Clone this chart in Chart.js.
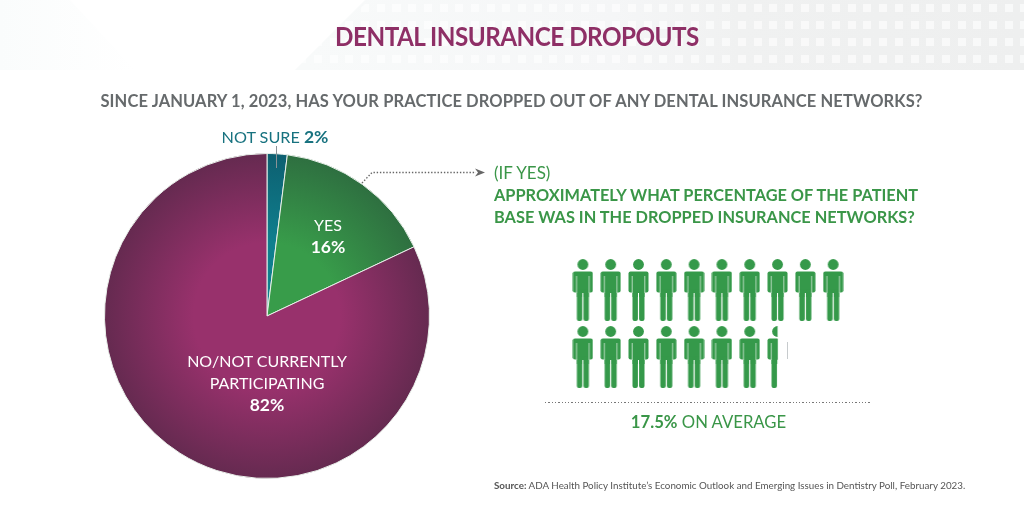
<!DOCTYPE html>
<html>
<head>
<meta charset="utf-8">
<script src="https://cdn.jsdelivr.net/npm/chart.js@4/dist/chart.umd.min.js"></script>
<style>
html, body { margin: 0; padding: 0; background: #fff; }
#page { position: relative; width: 1024px; height: 512px; overflow: hidden; font-family: Lato, sans-serif; }
#bandLeft { position: absolute; left: 0; top: 0; width: 135px; height: 70px;
  clip-path: polygon(0 0, 70px 0, 135px 70px, 0 70px);
  background: linear-gradient(90deg, #fafcfc 0, #ffffff 100%); }
#band { position: absolute; left: 0; top: 0; width: 1024px; height: 70px;
  clip-path: polygon(295px 70px, 365px 0, 1024px 0, 1024px 70px);
  background: linear-gradient(90deg, #f8fafa 30%, #f5f6f7 60%, #f0f1f1 72%, #eeefef 100%); }
#dashes { position: absolute; left: 0; top: 4px; width: 1024px; height: 62px; opacity: .6;
  clip-path: polygon(295px 62px, 365px 0, 1024px 0, 1024px 62px);
  background: repeating-linear-gradient(90deg, #fff 0 8px, transparent 8px 15.7px);
  -webkit-mask-image: repeating-linear-gradient(180deg, #000 0 8.5px, transparent 8.5px 17px); }
canvas { position: absolute; }
.t { position: absolute; white-space: nowrap; }
.c { text-align: center; transform: translateX(-50%); }
#title { left: 517px; top: 20px; font-size: 26px; font-weight: 700; color: #8e2f66; letter-spacing: -.55px; transform: translateX(-50%) scaleX(.933); }
#question { left: 511.5px; top: 91px; font-size: 16.5px; font-weight: 700; color: #666a6c; letter-spacing: .1px; }
#lab0 { left: 275px; top: 126px; font-size: 16.2px; color: #17727f; }
#lab0 b { font-size: 17.5px; }
#lab1 { left: 328px; top: 214px; font-size: 16px; line-height: 22px; color: #fff; }
#lab2 { left: 267px; top: 350px; font-size: 16px; line-height: 22px; color: #fff; }
#lab1 b, #lab2 b { font-size: 17.5px; }
#ifyes { left: 494px; top: 162px; font-size: 17px; color: #3a9648; }
#sub { left: 494px; top: 184px; font-size: 16.35px; line-height: 22px; font-weight: 700; color: #3a9648; }
#avg { left: 708.5px; top: 412px; font-size: 16.7px; color: #3a9648; }
#source { left: 494px; top: 479px; font-size: 9.8px; color: #555; }
#sep { position: absolute; left: 545px; top: 402px; width: 326px; height: 1.4px;
  background: repeating-linear-gradient(90deg, #777 0 1.3px, transparent 1.3px 3.3px); }
</style>
</head>
<body>
<div id="page">
  <div id="bandLeft"></div>
  <div id="band"></div>
  <div id="dashes"></div>
  <canvas id="pieChart" width="1024" height="512" style="left:0;top:0"></canvas>
  <canvas id="peopleChart" width="306" height="201" style="left:555px;top:223px"></canvas>
  <div id="sep"></div>
  <div class="t" id="title">DENTAL INSURANCE DROPOUTS</div>
  <div class="t c" id="question">SINCE JANUARY 1, 2023, HAS YOUR PRACTICE DROPPED OUT OF ANY DENTAL INSURANCE NETWORKS?</div>
  <div class="t c" id="lab0"></div>
  <div class="t c" id="lab1"></div>
  <div class="t c" id="lab2"></div>
  <div class="t" id="ifyes">(IF YES)</div>
  <div class="t" id="sub">APPROXIMATELY WHAT PERCENTAGE OF THE PATIENT<br>BASE WAS IN THE DROPPED INSURANCE NETWORKS?</div>
  <div class="t c" id="avg"></div>
  <div class="t" id="source"><b>Source:</b> ADA Health Policy Institute’s Economic Outlook and Emerging Issues in Dentistry Poll, February 2023.</div>
</div>
<script>
var answers = ['NOT SURE', 'YES', 'NO/NOT CURRENTLY<br>PARTICIPATING'];
var answerShares = [2, 16, 82];
var innerColors = ['#0f7f8e', '#389c4a', '#98316c'];
var outerColors = ['#0d5f70', '#2e6f40', '#652a50'];
var averageShare = 17.5;
var iconsPerRow = 10;

// labels
document.getElementById('lab0').innerHTML = answers[0] + ' <b>' + answerShares[0] + '%</b>';
document.getElementById('lab1').innerHTML = answers[1] + '<br><b>' + answerShares[1] + '%</b>';
document.getElementById('lab2').innerHTML = answers[2] + '<br><b>' + answerShares[2] + '%</b>';
document.getElementById('avg').innerHTML = '<b>' + averageShare + '%</b> ON AVERAGE';

// thin leader lines next to the pie
var calloutPlugin = {
    id: 'callout',
    afterDraw: function (chart) {
        var c = chart.ctx;
        c.save();
        c.strokeStyle = '#8a9296';
        c.lineWidth = 1;
        c.beginPath();
        c.moveTo(276.5, 146);
        c.lineTo(276.5, 168);
        c.stroke();
        c.strokeStyle = '#666';
        c.lineWidth = 1.4;
        c.setLineDash([1.4, 1.8]);
        c.beginPath();
        c.moveTo(362, 183);
        c.lineTo(372, 172.5);
        c.lineTo(476, 172.5);
        c.stroke();
        c.setLineDash([]);
        c.fillStyle = '#666';
        c.beginPath();
        c.moveTo(485, 172.5);
        c.lineTo(475, 168.5);
        c.lineTo(478, 172.5);
        c.lineTo(475, 176.5);
        c.closePath();
        c.fill();
        c.restore();
    }
};

function sliceGradient(context) {
    var area = context.chart.chartArea;
    if (!area) {
        return innerColors[context.dataIndex];
    }
    var cx = (area.left + area.right) / 2;
    var cy = (area.top + area.bottom) / 2;
    var g = context.chart.ctx.createRadialGradient(cx, cy, 0, cx, cy, (area.right - area.left) / 2);
    g.addColorStop(0, innerColors[context.dataIndex]);
    g.addColorStop(0.45, innerColors[context.dataIndex]);
    g.addColorStop(1, outerColors[context.dataIndex]);
    return g;
}

new Chart(document.getElementById('pieChart'), {
    type: 'pie',
    data: {
        labels: ['NOT SURE', 'YES', 'NO/NOT CURRENTLY PARTICIPATING'],
        datasets: [{
            data: answerShares,
            backgroundColor: sliceGradient,
            borderColor: '#e8efe9',
            borderWidth: 1
        }]
    },
    options: {
        responsive: false,
        animation: false,
        layout: { padding: { left: 104, right: 594, top: 153, bottom: 33 } },
        plugins: { legend: { display: false }, tooltip: { enabled: false } }
    },
    plugins: [calloutPlugin]
});

// person icon, cut at the given fraction of its width
function personIcon(fraction) {
    var w = 21, h = 62;
    var cv = document.createElement('canvas');
    cv.width = w;
    cv.height = h;
    var c = cv.getContext('2d');
    c.save();
    c.beginPath();
    c.rect(0, 0, w * fraction, h);
    c.clip();
    c.fillStyle = '#35994a';
    c.beginPath();
    c.arc(10.5, 5.5, 5.4, 0, Math.PI * 2);
    c.fill();
    c.beginPath();
    c.roundRect(0.5, 12.5, 20, 21, 2);
    c.fill();
    c.fillRect(4.5, 13, 12, 25);
    c.beginPath();
    c.roundRect(4.5, 30, 5.4, 32, 2);
    c.roundRect(11.1, 30, 5.4, 32, 2);
    c.fill();
    // pale gaps between arms, body and legs
    c.fillStyle = '#b5d9bc';
    c.fillRect(3.7, 17, 1, 17);
    c.fillRect(16.3, 17, 1, 17);
    c.clearRect(9.9, 34, 1.2, 28);
    c.restore();
    if (fraction < 1) {
        // sliver of the cut arm
        c.fillStyle = '#c4c8ca';
        c.fillRect(20, 16, 1, 17);
    }
    return cv;
}

// one icon per percentage point, the rest as a partial icon
var iconPoints = [];
var iconStyles = [];
var whole = Math.floor(averageShare);
for (var i = 0; i < Math.ceil(averageShare); i++) {
    iconPoints.push({ x: i % iconsPerRow + 1, y: Math.floor(i / iconsPerRow) + 1 });
    iconStyles.push(personIcon(i < whole ? 1 : averageShare - whole));
}

new Chart(document.getElementById('peopleChart'), {
    type: 'scatter',
    data: {
        datasets: [{
            data: iconPoints,
            pointStyle: iconStyles,
            pointRadius: 10,
            clip: false
        }]
    },
    options: {
        responsive: false,
        animation: false,
        layout: { padding: 0, autoPadding: false },
        plugins: { legend: { display: false }, tooltip: { enabled: false } },
        scales: {
            x: { display: false, min: 0, max: 11 },
            y: { display: false, min: 0, max: 3, reverse: true }
        }
    }
});
</script>
</body>
</html>
